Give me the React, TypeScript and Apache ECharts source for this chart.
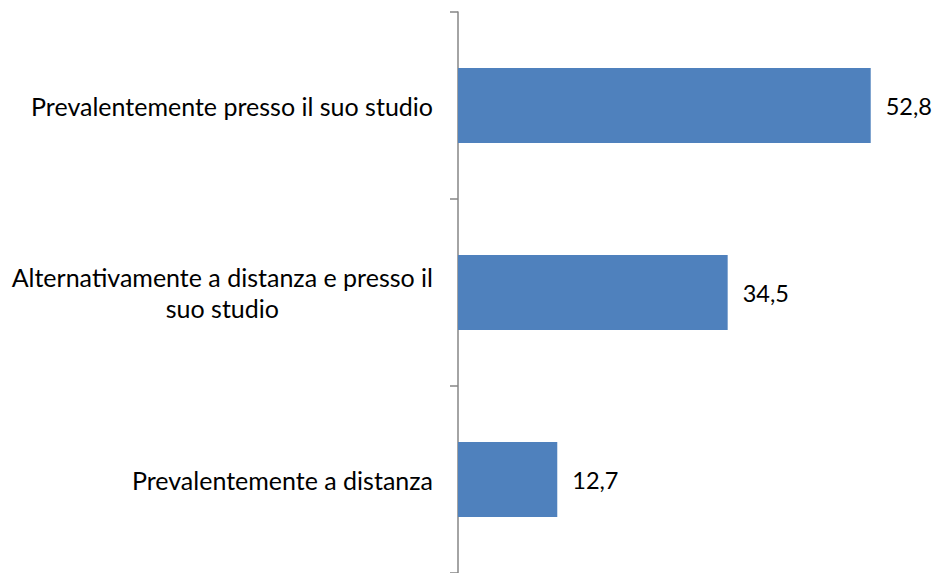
import React, { useEffect, useRef } from "react";
import * as echarts from "echarts";

const categories = [
  "Prevalentemente a distanza",
  "Alternativamente a distanza e presso il\nsuo studio",
  "Prevalentemente presso il suo studio",
];
const values = [12.7, 34.5, 52.8];

const FONT = "Lato";

export default function App() {
  const ref = useRef<HTMLDivElement>(null);
  useEffect(() => {
    if (!ref.current) return;
    const chart = echarts.init(ref.current, null, { renderer: "svg" });
    chart.setOption({
      animation: false,
      grid: { left: 458, right: 14, top: 12, bottom: 0, containLabel: false },
      xAxis: {
        type: "value",
        min: 0,
        max: 60,
        show: false,
        splitLine: { show: false },
      },
      yAxis: {
        type: "category",
        data: categories,
        axisLine: { show: true, lineStyle: { color: "#868686", width: 1.5 } },
        axisTick: { show: true, length: 8, lineStyle: { color: "#868686", width: 1.5 } },
        axisLabel: {
          margin: 25,
          formatter: (v: string) =>
            v
              .split("\n")
              .map((s) => `{c|${s}}`)
              .join("\n"),
          rich: {
            c: {
              align: "center",
              fontFamily: FONT,
              fontSize: 25,
              color: "#000",
              lineHeight: 31,
            },
          },
        },
      },
      series: [
        {
          type: "bar",
          data: values,
          barWidth: "40%",
          itemStyle: { color: "#4F81BD" },
          label: {
            show: true,
            position: "right",
            distance: 15,
            fontFamily: FONT,
            fontSize: 23.5,
            color: "#000",
            formatter: (p: any) => String(p.value).replace(".", ","),
          },
        },
      ],
    });
    return () => chart.dispose();
  }, []);
  return (
    <div
      ref={ref}
      style={{ position: "fixed", left: 0, top: 0, width: 941, height: 573, background: "#fff" }}
    />
  );
}
